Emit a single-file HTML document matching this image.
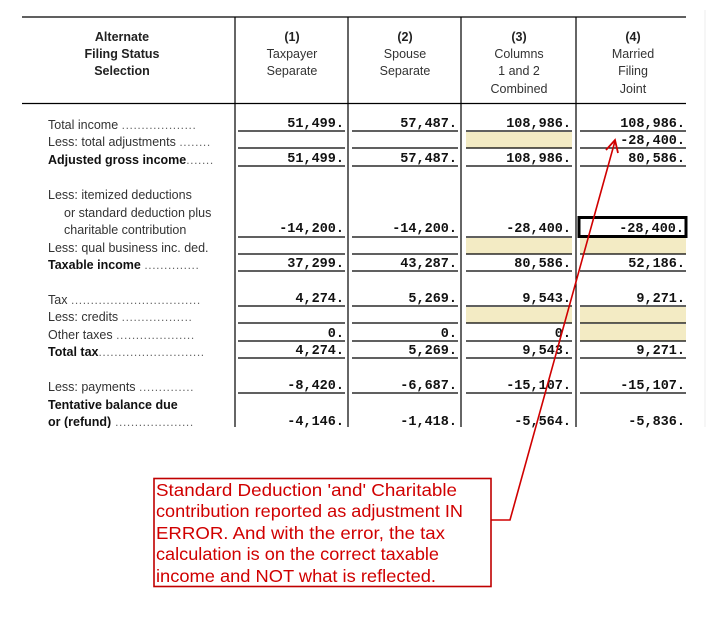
<!DOCTYPE html>
<html><head><meta charset="utf-8"><style>
html,body{margin:0;padding:0;background:#fff;width:723px;height:627px;overflow:hidden}
svg{display:block}
.h{font-family:"Liberation Sans",Arial,sans-serif;font-size:12.5px;fill:#333;text-anchor:middle}
.hb{font-weight:bold;fill:#222}
.l{font-family:"Liberation Sans",Arial,sans-serif;font-size:12.5px;fill:#333}
.lb{font-weight:bold;fill:#111}
.d{font-family:"Liberation Sans",Arial,sans-serif;font-size:12px;fill:#666;letter-spacing:0.6px}
.n{font-family:"Liberation Mono","Courier New",monospace;font-size:13.5px;font-weight:bold;fill:#111;text-anchor:end}
.a{font-family:"Liberation Sans",Arial,sans-serif;font-size:17.5px;fill:#d00000}
</style></head><body>
<svg width="723" height="627" viewBox="0 0 723 627">
<g fill="#f3ebc4">
<rect x="466" y="132" width="106" height="16"/>
<rect x="466" y="238" width="106" height="16"/>
<rect x="580" y="238" width="106" height="16"/>
<rect x="466" y="307" width="106" height="16"/>
<rect x="580" y="307" width="106" height="16"/>
<rect x="580" y="324" width="106" height="17"/>
</g>
<g stroke="#000" stroke-width="1.2">
<line x1="22" y1="17" x2="686" y2="17"/>
<line x1="22" y1="103.5" x2="686" y2="103.5"/>
<line x1="235" y1="17" x2="235" y2="427"/>
<line x1="348" y1="17" x2="348" y2="427"/>
<line x1="461" y1="17" x2="461" y2="427"/>
<line x1="576" y1="17" x2="576" y2="427"/>
</g>
<line x1="705" y1="10" x2="705" y2="427" stroke="#eee" stroke-width="1"/>
<text class="h hb" x="122" y="41">Alternate</text>
<text class="h hb" x="122" y="58">Filing Status</text>
<text class="h hb" x="122" y="75">Selection</text>
<text class="h hb" x="292" y="41">(1)</text>
<text class="h" x="292" y="58">Taxpayer</text>
<text class="h" x="292" y="75">Separate</text>
<text class="h hb" x="405" y="41">(2)</text>
<text class="h" x="405" y="58">Spouse</text>
<text class="h" x="405" y="75">Separate</text>
<text class="h hb" x="519" y="41">(3)</text>
<text class="h" x="519" y="58">Columns</text>
<text class="h" x="519" y="75">1 and 2</text>
<text class="h" x="519" y="93">Combined</text>
<text class="h hb" x="633" y="41">(4)</text>
<text class="h" x="633" y="58">Married</text>
<text class="h" x="633" y="75">Filing</text>
<text class="h" x="633" y="93">Joint</text>
<g stroke="#000" stroke-width="1.2">
<g id="u">
<line x1="238" x2="345" y1="131" y2="131"/><line x1="352" x2="458" y1="131" y2="131"/><line x1="466" x2="572" y1="131" y2="131"/><line x1="580" x2="686" y1="131" y2="131"/>
</g>
<use href="#u" y="17"/><use href="#u" y="35"/><use href="#u" y="106"/><use href="#u" y="123"/><use href="#u" y="140"/>
<use href="#u" y="175"/><use href="#u" y="192"/><use href="#u" y="210"/><use href="#u" y="227"/><use href="#u" y="262"/>
</g>
<rect x="579" y="217.5" width="107" height="19" fill="none" stroke="#000" stroke-width="3"/>
<text class="l" x="48" y="129">Total income <tspan class="d">...................</tspan></text>
<text class="l" x="48" y="146">Less: total adjustments <tspan class="d">........</tspan></text>
<text class="l lb" x="48" y="164">Adjusted gross income<tspan class="d" font-weight="normal">.......</tspan></text>
<text class="l" x="48" y="199">Less: itemized deductions</text>
<text class="l" x="64" y="217">or standard deduction plus</text>
<text class="l" x="64" y="234">charitable contribution</text>
<text class="l" x="48" y="252">Less: qual business inc. ded.</text>
<text class="l lb" x="48" y="269">Taxable income <tspan class="d" font-weight="normal">..............</tspan></text>
<text class="l" x="48" y="304">Tax <tspan class="d">.................................</tspan></text>
<text class="l" x="48" y="321">Less: credits <tspan class="d">..................</tspan></text>
<text class="l" x="48" y="339">Other taxes <tspan class="d">....................</tspan></text>
<text class="l lb" x="48" y="356">Total tax<tspan class="d" font-weight="normal">...........................</tspan></text>
<text class="l" x="48" y="391">Less: payments <tspan class="d">..............</tspan></text>
<text class="l lb" x="48" y="409">Tentative balance due</text>
<text class="l lb" x="48" y="426">or  (refund)<tspan class="d" font-weight="normal"> ....................</tspan></text>
<rect x="20" y="428" width="700" height="10" fill="#fff"/>
<g class="n">
<text x="344" y="127">51,499.</text><text x="457" y="127">57,487.</text><text x="571" y="127">108,986.</text><text x="685" y="127">108,986.</text>
<text x="685" y="144">-28,400.</text>
<text x="344" y="162">51,499.</text><text x="457" y="162">57,487.</text><text x="571" y="162">108,986.</text><text x="685" y="162">80,586.</text>
<text x="344" y="232">-14,200.</text><text x="457" y="232">-14,200.</text><text x="571" y="232">-28,400.</text><text x="684" y="232">-28,400.</text>
<text x="344" y="267">37,299.</text><text x="457" y="267">43,287.</text><text x="571" y="267">80,586.</text><text x="685" y="267">52,186.</text>
<text x="344" y="302">4,274.</text><text x="457" y="302">5,269.</text><text x="571" y="302">9,543.</text><text x="685" y="302">9,271.</text>
<text x="344" y="337">0.</text><text x="457" y="337">0.</text><text x="571" y="337">0.</text>
<text x="344" y="354">4,274.</text><text x="457" y="354">5,269.</text><text x="571" y="354">9,543.</text><text x="685" y="354">9,271.</text>
<text x="344" y="389">-8,420.</text><text x="457" y="389">-6,687.</text><text x="571" y="389">-15,107.</text><text x="685" y="389">-15,107.</text>
<text x="344" y="425">-4,146.</text><text x="457" y="425">-1,418.</text><text x="571" y="425">-5,564.</text><text x="685" y="425">-5,836.</text>
</g>
<polyline points="491,520 510,520 615,141" fill="none" stroke="#d00000" stroke-width="1.6"/>
<polyline points="606,150 615,140 618,153" fill="none" stroke="#d00000" stroke-width="1.8"/>
<rect x="154" y="478.5" width="337" height="108" fill="#fff" stroke="#c00000" stroke-width="1.6"/>
<g class="a">
<text x="156" y="496" textLength="301" lengthAdjust="spacingAndGlyphs">Standard Deduction 'and' Charitable</text>
<text x="156" y="517" textLength="307" lengthAdjust="spacingAndGlyphs">contribution reported as adjustment IN</text>
<text x="156" y="539" textLength="289" lengthAdjust="spacingAndGlyphs">ERROR.  And with the error, the tax</text>
<text x="156" y="560" textLength="283" lengthAdjust="spacingAndGlyphs">calculation is on the correct taxable</text>
<text x="156" y="582" textLength="280" lengthAdjust="spacingAndGlyphs">income and NOT what is reflected.</text>
</g>
</svg>
</body></html>
